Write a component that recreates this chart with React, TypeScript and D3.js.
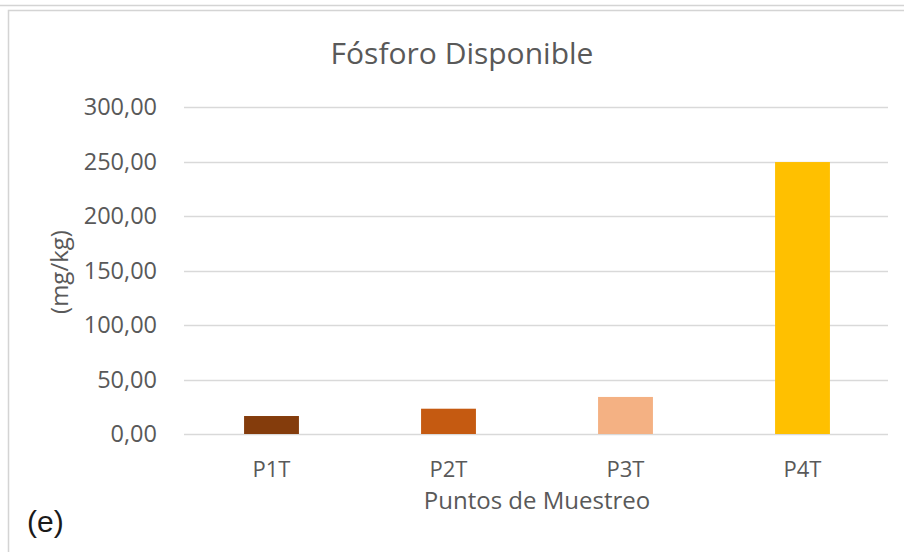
import React, { useEffect, useRef } from "react";
import * as d3 from "d3";

const categories = ["P1T", "P2T", "P3T", "P4T"];
const values = [16.5, 23.2, 34.0, 249.5];
const barColors = ["#843C0C", "#C55A11", "#F4B183", "#FFC000"];
const yTicks = [0, 50, 100, 150, 200, 250, 300];

const W = 904;
const H = 552;
const FONT = "'Open Sans', sans-serif";

export default function App() {
  const svgRef = useRef<SVGSVGElement>(null);

  useEffect(() => {
    const svg = d3.select(svgRef.current);
    svg.selectAll("*").remove();

    const left = 184;
    const right = 888;
    const top = 107;
    const bottom = 434;

    // bands a touch wider than the gridlines, like the original
    const x = d3
      .scaleBand<string>()
      .domain(categories)
      .range([183, 891])
      .paddingInner(0.69)
      .paddingOuter(0.345);
    const y = d3.scaleLinear().domain([0, 300]).range([bottom, top]);

    svg.append("rect").attr("width", W).attr("height", H).attr("fill", "#fff");

    // frame lines
    svg
      .append("line")
      .attr("x1", 0)
      .attr("x2", W)
      .attr("y1", 5.5)
      .attr("y2", 5.5)
      .attr("stroke", "#d4d4d4")
      .attr("stroke-width", 1.5);
    svg
      .append("path")
      .attr("d", `M8.5,${H} V10.5 H${W}`)
      .attr("fill", "none")
      .attr("stroke", "#d4d4d4")
      .attr("stroke-width", 1.5);

    // gridlines
    svg
      .append("g")
      .selectAll("line")
      .data(yTicks)
      .join("line")
      .attr("x1", left)
      .attr("x2", right)
      .attr("y1", (d) => Math.round(y(d)) + 0.5)
      .attr("y2", (d) => Math.round(y(d)) + 0.5)
      .attr("stroke", "#d9d9d9")
      .attr("stroke-width", 1.5);

    // y tick labels
    svg
      .append("g")
      .selectAll("text")
      .data(yTicks)
      .join("text")
      .attr("x", 157)
      .attr("y", (d) => y(d))
      .attr("dy", "0.35em")
      .attr("text-anchor", "end")
      .attr("font-family", FONT)
      .attr("font-size", 23.5)
      .attr("fill", "#595959")
      .text((d) => d3.format(".2f")(d).replace(".", ","));

    // bars
    svg
      .append("g")
      .selectAll("rect")
      .data(values)
      .join("rect")
      .attr("x", (_, i) => x(categories[i])!)
      .attr("width", x.bandwidth())
      .attr("y", (d) => y(d))
      .attr("height", (d) => y(0) - y(d))
      .attr("fill", (_, i) => barColors[i]);

    // x labels
    svg
      .append("g")
      .selectAll("text")
      .data(categories)
      .join("text")
      .attr("x", (d) => x(d)! + x.bandwidth() / 2)
      .attr("y", 477)
      .attr("text-anchor", "middle")
      .attr("font-family", FONT)
      .attr("font-size", 22)
      .attr("fill", "#595959")
      .text((d) => d);

    // title
    svg
      .append("text")
      .attr("x", 462)
      .attr("y", 64)
      .attr("text-anchor", "middle")
      .attr("font-family", FONT)
      .attr("font-size", 30)
      .attr("fill", "#595959")
      .text("Fósforo Disponible");

    // axis titles
    svg
      .append("text")
      .attr("x", 537)
      .attr("y", 508.5)
      .attr("text-anchor", "middle")
      .attr("font-family", FONT)
      .attr("font-size", 24)
      .attr("fill", "#595959")
      .text("Puntos de Muestreo");

    svg
      .append("text")
      .attr("transform", "translate(68,272) rotate(-90)")
      .attr("text-anchor", "middle")
      .attr("font-family", FONT)
      .attr("font-size", 24)
      .attr("fill", "#595959")
      .text("(mg/kg)");

    svg
      .append("text")
      .attr("x", 27)
      .attr("y", 532)
      .attr("font-family", "'Liberation Sans', Arial, sans-serif")
      .attr("font-size", 30)
      .attr("fill", "#1a1a1a")
      .text("(e)");
  }, []);

  return (
    <svg
      ref={svgRef}
      width={W}
      height={H}
      style={{ position: "absolute", left: 0, top: 0 }}
    />
  );
}
